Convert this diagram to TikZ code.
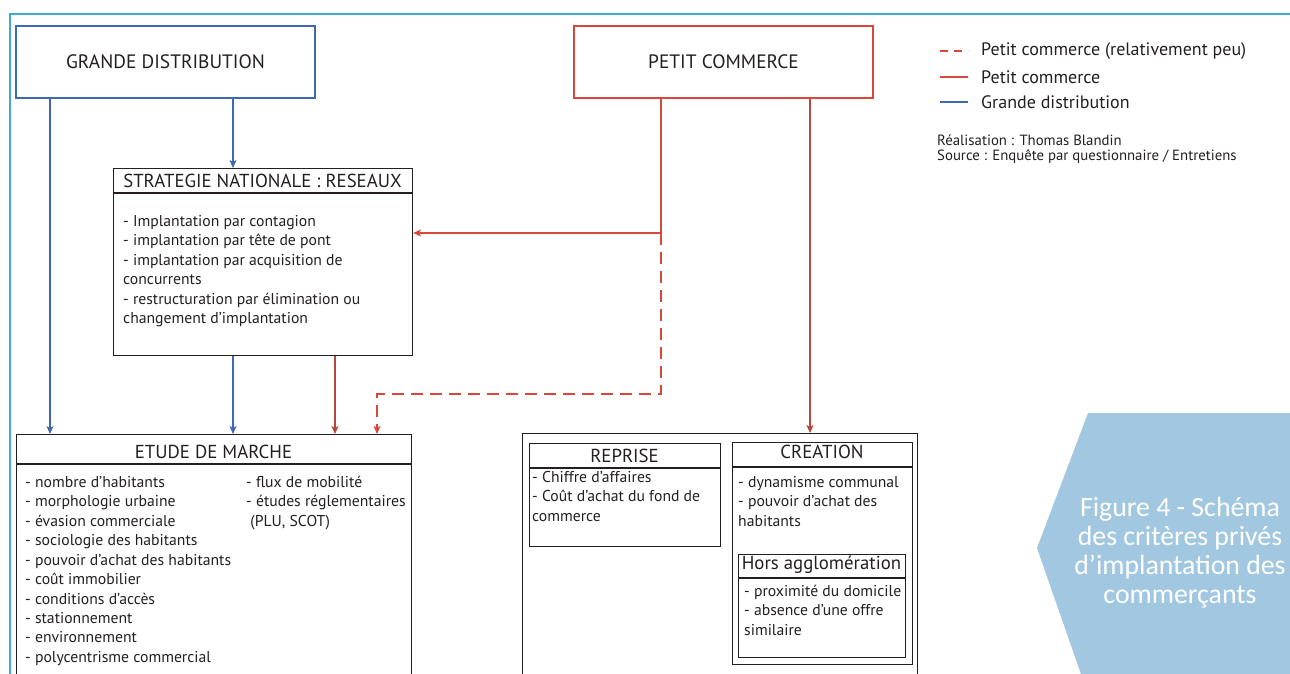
\documentclass[tikz,border=0pt]{standalone}
\usepackage{fontspec}
\setmainfont{PT Sans}
\newfontfamily\figfont{Carlito}
\usetikzlibrary{arrows.meta}
\definecolor{frameblue}{HTML}{3FA9D6}
\definecolor{gdblue}{HTML}{3F68B0}
\definecolor{pcred}{HTML}{D9473A}
\definecolor{pcdark}{HTML}{B8483D}
\definecolor{txt}{HTML}{231F20}
\definecolor{figbg}{HTML}{A1C8E0}
\tikzset{
  box/.style={draw=txt, line width=1.1pt, inner sep=0pt},
  topbox/.style={draw, line width=1.1pt, minimum width=299pt, minimum height=72pt, inner sep=0pt, font=\fontsize{19.4}{22}\selectfont, text=txt},
  head/.style={inner sep=0pt, text=txt, font=\fontsize{18.8}{22}\selectfont},
  body/.style={inner sep=0pt, text=txt, align=left, anchor=north west, font=\fontsize{15.7}{19.45}\selectfont},
  tip/.style={-{Stealth[length=8pt,width=7pt,inset=2pt]}},
  bl/.style={draw=gdblue, line width=1.1pt},
  rd/.style={draw=pcred, line width=1.1pt},
  rdk/.style={draw=pcdark, line width=1.1pt},
  leg/.style={inner sep=0pt, anchor=west, text=txt, font=\fontsize{18}{20}\selectfont},
  cred/.style={inner sep=0pt, anchor=west, text=txt, font=\fontsize{14.8}{17}\selectfont},
}
\begin{document}
\begin{tikzpicture}[x=1pt,y=-1pt]
\useasboundingbox (0,0) rectangle (1290,673);
\clip (0,0) rectangle (1290,673);
% frame
\draw[frameblue, line width=2pt] (10,680) -- (10,14) -- (1295,14);
% top boxes
\node[topbox, draw=gdblue] (gd) at (165.5,62) {GRANDE DISTRIBUTION};
\node[topbox, draw=pcred] (pc) at (723.5,62) {PETIT COMMERCE};
% strategie
\node[box, minimum width=299pt, minimum height=187pt, anchor=north west] (strat) at (113,168) {};
\draw[txt, line width=1.1pt] (strat.west |- 0,193) -- (strat.east |- 0,193);
\node[head] (strath) at (262.5,181) {STRATEGIE NATIONALE : RESEAUX};
\node[body] (stratb) at (123,215) {- Implantation par contagion\\- implantation par tête de pont\\- implantation par acquisition de\\concurrents\\- restructuration par élimination ou\\changement d’implantation};
% etude
\node[box, minimum width=395pt, minimum height=260pt, anchor=north west] (etude) at (16,434) {};
\draw[txt, line width=1.1pt] (etude.west |- 0,464) -- (etude.east |- 0,464);
\node[head] (etudeh) at (213.5,452) {ETUDE DE MARCHE};
\node[body] (etudeb1) at (25,476) {- nombre d’habitants\\- morphologie urbaine\\- évasion commerciale\\- sociologie des habitants\\- pouvoir d’achat des habitants\\- coût immobilier\\- conditions d’accès\\- stationnement\\- environnement\\- polycentrisme commercial};
\node[body] (etudeb2) at (246,476) {- flux de mobilité\\- études réglementaires\\\ (PLU, SCOT)};
% right outer box
\node[box, minimum width=395pt, minimum height=260pt, anchor=north west] (outer) at (522,433) {};
\node[box, minimum width=191pt, minimum height=103pt, anchor=north west] (rep) at (529,443) {};
\draw[txt, line width=1.1pt] (rep.west |- 0,468) -- (rep.east |- 0,468);
\node[head] (reph) at (624.5,456) {REPRISE};
\node[body] (repb) at (532,471) {- Chiffre d’affaires\\- Coût d’achat du fond de\\commerce};
\node[box, minimum width=180pt, minimum height=222pt, anchor=north west] (crea) at (732,442) {};
\draw[txt, line width=1.1pt] (crea.west |- 0,467) -- (crea.east |- 0,467);
\node[head] (creah) at (822,452) {CREATION};
\node[body] (creab) at (738,476) {- dynamisme communal\\- pouvoir d’achat des\\habitants};
\node[box, minimum width=167pt, minimum height=103pt, anchor=north west] (hors) at (738,554) {};
\draw[txt, line width=1.1pt] (hors.west |- 0,578) -- (hors.east |- 0,578);
\node[head] (horsh) at (821.5,565) {Hors agglomération};
\node[body] (horsb) at (744,585) {- proximité du domicile\\- absence d’une offre\\similaire};
% connectors blue
\draw[bl, tip] (gd.south -| 233,0) -- (strat.north -| 233,0);
\draw[bl, tip] (gd.south -| 50,0) -- (etude.north -| 50,0);
\draw[bl, tip] (strat.south -| 233,0) -- (etude.north -| 233,0);
% connectors red
\draw[rdk, tip] (strat.south -| 335,0) -- (etude.north -| 335,0);
\coordinate (split) at (661,233);
\draw[rd, tip] (pc.south -| split) -- (split) -- (strat.east |- split);
\draw[rd, dash pattern=on 12pt off 7pt, tip] (split) -- (661,394) -- (377,394) -- (etude.north -| 377,0);
\draw[rdk, tip] (pc.south -| 810,0) -- (outer.north -| 810,0);
% legend
\draw[pcred, line width=1.1pt, dash pattern=on 8pt off 6pt] (940,51) -- (968,51);
\node[leg] (l1) at (981,51) {Petit commerce (relativement peu)};
\draw[pcred, line width=1.1pt] (940,77) -- (968,77);
\node[leg] (l2) at (981,77) {Petit commerce};
\draw[gdblue, line width=1.1pt] (940,102) -- (968,102);
\node[leg] (l3) at (981,102) {Grande distribution};
\node[cred] (c1) at (937,140) {Réalisation : Thomas Blandin};
\node[cred] (c2) at (937,157) {Source : Enquête par questionnaire / Entretiens};
% figure label
\fill[figbg] (1088,413) -- (1295,413) -- (1295,680) -- (1083,680) -- (1037,548) -- cycle;
\node[inner sep=0pt, text=white, align=center, font=\figfont\fontsize{27.8}{29}\selectfont] (fig) at (1180,553) {Figure 4 - Schéma\\des critères privés\\d’implantation des\\commerçants};
\end{tikzpicture}
\end{document}
